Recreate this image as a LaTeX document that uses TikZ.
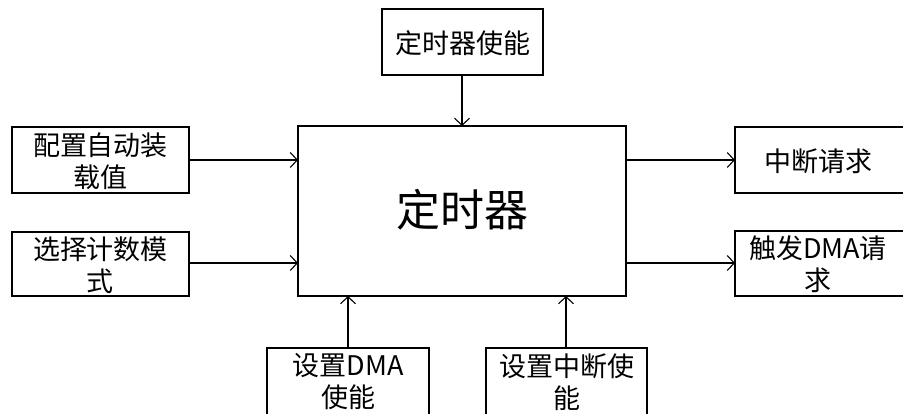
\documentclass[tikz,border=0pt]{standalone}
\usepackage{fontspec}
\setmainfont{Noto Sans CJK SC}
\usetikzlibrary{arrows.meta}
\begin{document}
\begin{tikzpicture}[x=1pt,y=-1pt,
  box/.style={draw, line width=1.1pt, fill=white},
  lbl/.style={align=center, font=\fontsize{27}{32}\selectfont},
  conn/.style={line width=1.1pt, -{Straight Barb[length=7pt,width=15pt,line width=1.1pt]}}]
\useasboundingbox (0,0) rectangle (903,414);
\begin{scope}
\clip (0,0) rectangle (903,414);
% main
\draw[box] (298,126) rectangle (626,296);
\node (main) at (462,211) {};
\node[font=\fontsize{44}{48}\selectfont] (maint) at (462,210) {定时器};
% top
\draw[box] (382,9) rectangle (543,75);
\node[lbl] (top) at (462.5,43) {定时器使能};
% left
\draw[box] (12,127) rectangle (189,193);
\node[lbl] (l1) at (100.5,161) {配置自动装\\载值};
\draw[box] (12,232) rectangle (189,296);
\node[lbl] (l2) at (100.5,265) {选择计数模\\式};
% right
\draw[box] (735,127) rectangle (915,193);
\node[lbl] (r1) at (818,161) {中断请求};
\draw[box] (735,231) rectangle (915,296);
\node[lbl] (r2) at (818,264.5) {触发DMA请\\求};
% bottom
\draw[box] (267,348) rectangle (429,420);
\node[lbl] (b1) at (348,382) {设置DMA\\使能};
\draw[box] (486,348) rectangle (647,420);
\node[lbl] (b2) at (566.5,382) {设置中断使\\能};
\end{scope}
% connectors
\coordinate (mL1) at (298,160);
\coordinate (mL2) at (298,263);
\coordinate (mR1) at (626,160);
\coordinate (mR2) at (626,263);
\coordinate (mT) at (462,126);
\coordinate (mB1) at (348,296);
\coordinate (mB2) at (566,296);
\coordinate (l1e) at (189,160);
\coordinate (l2e) at (189,263);
\coordinate (r1e) at (735,160);
\coordinate (r2e) at (735,263);
\coordinate (tope) at (462,75);
\coordinate (b1e) at (348,348);
\coordinate (b2e) at (566,348);
\draw[conn] (l1e) -- (mL1);
\draw[conn] (l2e) -- (mL2);
\draw[conn] (mR1) -- (r1e);
\draw[conn] (mR2) -- (r2e);
\draw[conn] (tope) -- (mT);
\draw[conn] (b1e) -- (mB1);
\draw[conn] (b2e) -- (mB2);
\end{tikzpicture}
\end{document}
